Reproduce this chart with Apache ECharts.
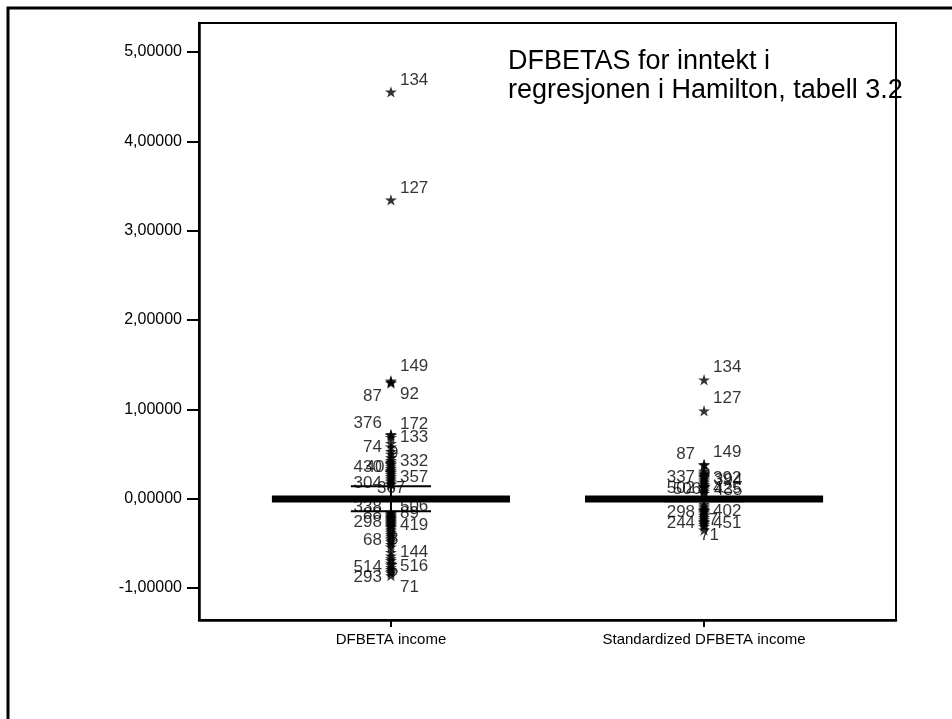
<!DOCTYPE html>
<html>
<head>
<meta charset="utf-8">
<script src="https://cdn.jsdelivr.net/npm/echarts@6/dist/echarts.min.js"></script>
<style>
  html, body { margin: 0; padding: 0; background: #fff; }
  #chart { width: 952px; height: 719px; }
</style>
</head>
<body>
<div id="chart"></div>
<script>
// Variables on the horizontal axis
const categories = ['DFBETA income', 'Standardized DFBETA income'];
const yTickValues = [-1, 0, 1, 2, 3, 4, 5];

// Box summaries: [lower whisker, Q1, median, Q3, upper whisker]
const incomeBox = [-0.14, -0.033, -0.005, 0.025, 0.14];
const standardizedBox = [-0.03, -0.033, -0.005, 0.025, 0.02];

// Labelled outliers / extremes (case number and value)
const incomeOutlierCases = ['134', '127', '149', '92', '87', '376', '172', '133', '74', '9',
  '332', '430', '402', '357', '304', '367', '338', '506', '88', '89', '298', '419',
  '68', '8', '144', '514', '516', '5', '293', '71'];
const incomeOutlierValues = [4.553, 3.344, 1.320, 1.305, 1.295, 0.720, 0.710, 0.685, 0.580, 0.530,
  0.430, 0.390, 0.360, 0.300, 0.210, 0.170, -0.170, -0.180, -0.210, -0.230, -0.280, -0.300,
  -0.440, -0.460, -0.600, -0.720, -0.740, -0.790, -0.830, -0.860];
// Further cases inside the dense column whose labels are hidden
const incomeClusterValues = [0.16, 0.19, 0.23, 0.25, 0.27, 0.29, 0.32, 0.34, 0.38, 0.41, 0.46, 0.50, 0.62,
  -0.15, -0.16, -0.19, -0.20, -0.22, -0.24, -0.25, -0.26, -0.27, -0.29, -0.31, -0.32, -0.34,
  -0.36, -0.38, -0.40, -0.42, -0.48, -0.51, -0.54, -0.64, -0.67, -0.69, -0.77, -0.81];

const standardizedOutlierCases = ['134', '127', '149', '87', '9', '337', '392', '394', '502', '506',
  '425', '435', '298', '402', '244', '57', '451', '71'];
const standardizedOutlierValues = [1.331, 0.984, 0.385, 0.375, 0.310, 0.290, 0.275, 0.265, 0.140, 0.135,
  0.140, 0.130, -0.130, -0.140, -0.250, -0.270, -0.260, -0.350];
const standardizedClusterValues = [0.06, 0.08, 0.10, 0.12, 0.16, 0.18, 0.20, 0.22, 0.24, 0.25,
  -0.06, -0.08, -0.10, -0.12, -0.15, -0.17, -0.19, -0.21, -0.23, -0.29, -0.31];

// Label placement for each case: side of the star and pixel shift
const labelPlacement = [
  {
    '134': ['right', 0, -12], '127': ['right', 0, -12], '149': ['right', 0, -14], '92': ['right', 0, 12],
    '87': ['left', 0, 13], '376': ['left', 0, -11], '172': ['right', 0, -11], '133': ['right', 0, 0],
    '74': ['left', 0, 0], '9': ['right', -11, 2], '332': ['right', 0, 1], '430': ['left', 0, 3],
    '402': ['left', 12, 1], '357': ['right', 0, 5], '304': ['left', 0, 3], '367': ['right', -23, 5],
    '338': ['left', 0, -7], '506': ['right', 0, -8], '88': ['left', 0, -3], '89': ['right', 0, -6],
    '298': ['left', 0, -1], '419': ['right', 0, 0], '68': ['left', 0, 2], '8': ['right', -11, 0],
    '144': ['right', 0, 0], '514': ['left', 0, 4], '516': ['right', 0, 2], '5': ['right', -11, 1],
    '293': ['left', 0, 4], '71': ['right', 0, 12]
  },
  {
    '134': ['right', 0, -12], '127': ['right', 0, -12], '149': ['right', 0, -12], '87': ['left', 0, -11],
    '9': ['right', -12, 3], '337': ['left', 0, 5], '392': ['right', 0, 4], '394': ['right', 1, 5],
    '502': ['left', 0, 2], '506': ['left', 6, 3], '425': ['right', 0, 2], '435': ['right', 1, 3],
    '298': ['left', 0, 2], '402': ['right', 0, 0], '244': ['left', 0, 2], '57': ['right', -14, -2],
    '451': ['right', 0, 1], '71': ['right', -13, 5]
  }
];

const FONT = '"Liberation Sans", Arial, Helvetica, sans-serif';

// Five-pointed asterisk-like star used for outlying cases
function starPath() {
  const pts = [];
  for (let i = 0; i < 10; i++) {
    const r = i % 2 === 0 ? 10 : 3.8;
    const a = (-90 + 36 * i) * Math.PI / 180;
    pts.push((10 + r * Math.cos(a)).toFixed(2) + ' ' + (10 + r * Math.sin(a)).toFixed(2));
  }
  return 'path://M' + pts.join(' L') + ' Z';
}
const STAR = starPath();

const outlierItems = [];
function outlierData(groupIndex, cases, values) {
  return cases.map((c, i) => {
    const p = labelPlacement[groupIndex][c] || ['right', 0, 0];
    outlierItems.push(p);
    return {
      value: [groupIndex + 1, values[i]],
      name: c,
      label: { position: p[0] }
    };
  });
}
function clusterData(groupIndex, values) {
  return values.map(v => [groupIndex + 1, v]);
}

const boxes = [incomeBox, standardizedBox].map((b, i) => [i + 1].concat(b));
const outlierSeriesData = outlierData(0, incomeOutlierCases, incomeOutlierValues)
  .concat(outlierData(1, standardizedOutlierCases, standardizedOutlierValues));

const chart = echarts.init(document.getElementById('chart'), null, { renderer: 'canvas' });

const option = {
  animation: false,
  backgroundColor: '#fff',
  grid: {
    left: 199, right: 56, top: 23, bottom: 99,
    show: true, borderColor: '#000', borderWidth: 2, backgroundColor: 'transparent'
  },
  xAxis: {
    type: 'value',
    min: 0.387, max: 2.613,
    splitLine: { show: false },
    axisLine: { show: true, onZero: false, lineStyle: { color: '#000', width: 2.5 } },
    axisTick: { show: true, customValues: [1, 2], length: 7, lineStyle: { color: '#000', width: 2 } },
    axisLabel: {
      customValues: [1, 2], margin: 12, color: '#000', fontFamily: FONT, fontSize: 15,
      formatter: v => categories[Math.round(v) - 1] || ''
    }
  },
  yAxis: {
    type: 'value',
    min: -1.358, max: 5.324,
    splitLine: { show: false },
    axisLine: { show: true, onZero: false, lineStyle: { color: '#000', width: 2.5 } },
    axisTick: { show: true, customValues: yTickValues, length: 12, lineStyle: { color: '#000', width: 2 } },
    axisLabel: {
      customValues: yTickValues, margin: 17, color: '#000', fontFamily: FONT, fontSize: 16,
      formatter: v => v.toFixed(5).replace('.', ',')
    }
  },
  graphic: [
    {
      type: 'rect', shape: { x: 8, y: 8, width: 1000, height: 1000 },
      style: { fill: 'none', stroke: '#000', lineWidth: 3 }, silent: true, z: 100
    },
    {
      type: 'text', left: 508, top: 47, z: 50,
      style: {
        text: 'DFBETAS for inntekt i\nregresjonen i Hamilton, tabell 3.2',
        fontFamily: FONT, fontSize: 27, lineHeight: 29, fill: '#000'
      }
    }
  ],
  series: [
    {
      type: 'custom',
      data: boxes,
      z: 3,
      renderItem: function (params, api) {
        const x = api.value(0);
        const lo = api.value(1), q1 = api.value(2), med = api.value(3), q3 = api.value(4), hi = api.value(5);
        const halfBox = 0.377, halfCap = 0.128;
        const pLo = api.coord([x, lo]), pHi = api.coord([x, hi]);
        const pQ1 = api.coord([x, q1]), pQ3 = api.coord([x, q3]);
        const bl = api.coord([x - halfBox, q1]), tr = api.coord([x + halfBox, q3]);
        const cl = api.coord([x - halfCap, hi]), cr = api.coord([x + halfCap, hi]);
        const dl = api.coord([x - halfCap, lo]), dr = api.coord([x + halfCap, lo]);
        const ml = api.coord([x - halfBox, med]), mr = api.coord([x + halfBox, med]);
        const line = { stroke: '#000', lineWidth: 2 };
        return {
          type: 'group',
          children: [
            { type: 'line', shape: { x1: pQ3[0], y1: pQ3[1], x2: pHi[0], y2: pHi[1] }, style: line },
            { type: 'line', shape: { x1: pQ1[0], y1: pQ1[1], x2: pLo[0], y2: pLo[1] }, style: line },
            { type: 'line', shape: { x1: cl[0], y1: cl[1], x2: cr[0], y2: cr[1] }, style: line },
            { type: 'line', shape: { x1: dl[0], y1: dl[1], x2: dr[0], y2: dr[1] }, style: line },
            {
              type: 'rect',
              shape: { x: bl[0], y: tr[1], width: tr[0] - bl[0], height: bl[1] - tr[1] },
              style: { fill: '#000', stroke: '#000', lineWidth: 2 }
            },
            { type: 'line', shape: { x1: ml[0], y1: ml[1], x2: mr[0], y2: mr[1] }, style: { stroke: '#000', lineWidth: 3 } }
          ]
        };
      }
    },
    {
      type: 'scatter', z: 4,
      symbol: STAR, symbolSize: 12, symbolKeepAspect: true,
      itemStyle: { color: '#000' },
      data: clusterData(0, incomeClusterValues).concat(clusterData(1, standardizedClusterValues))
    },
    {
      type: 'scatter', z: 5,
      symbol: STAR, symbolSize: 12, symbolKeepAspect: true,
      itemStyle: { color: '#000' },
      label: {
        show: true, distance: 3, color: '#000', fontFamily: FONT, fontSize: 17,
        formatter: p => p.name
      },
      labelLayout: function (params) {
        const p = outlierItems[params.dataIndex];
        return { dx: p[1], dy: p[2] };
      },
      data: outlierSeriesData
    }
  ]
};

chart.setOption(option);
</script>
</body>
</html>
